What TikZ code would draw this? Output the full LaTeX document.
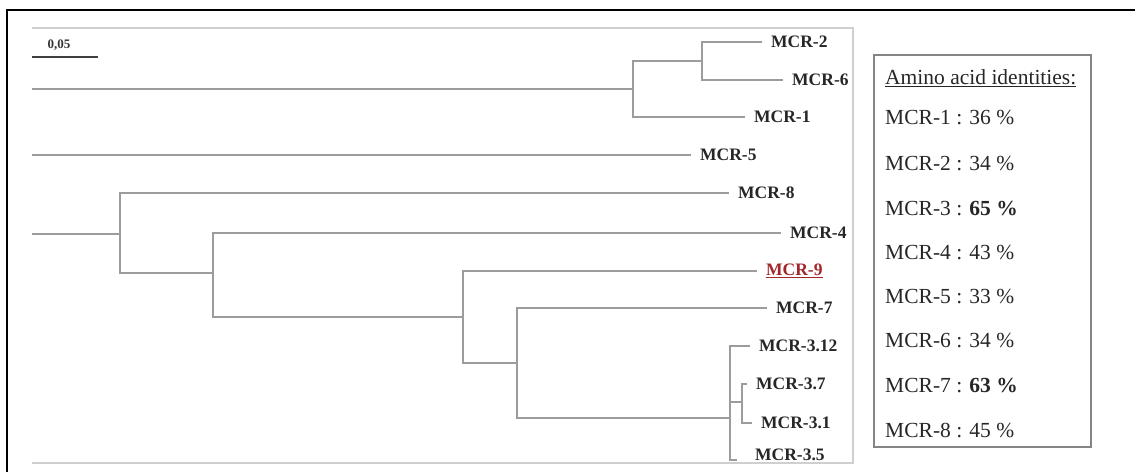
\documentclass[tikz,border=0pt]{standalone}
\usepackage{fontspec}
\setmainfont{Liberation Serif}
\usepackage{tikz}
\usetikzlibrary{positioning,calc}
\definecolor{Branch}{HTML}{9C9C9C}
\definecolor{FrameGray}{HTML}{CFCFCF}
\definecolor{BoxGray}{HTML}{858585}
\definecolor{Query}{HTML}{A3252B}

\begin{document}
\begin{tikzpicture}[
  x=1pt,y=-1pt,
  every node/.style={font=\fontsize{17.5}{19}\selectfont\bfseries},
  branch/.style={draw=Branch,line width=1.8pt},
  leaf/.style={anchor=west,inner xsep=9pt,inner ysep=0pt,text=black!85},
  ident/.style={anchor=west,inner sep=0pt,font=\fontsize{21.5}{23}\selectfont,text=black!85}
]
\useasboundingbox (0,0) rectangle (1135,472);
% frames
\draw[black,line width=1.4pt] (7,472) -- (7,10) -- (1135,10);
\draw[FrameGray,line width=2pt] (32,28) -- (853,28) -- (853,463) -- (32,463);
% scale bar
\node[font=\fontsize{13}{14}\selectfont\bfseries,inner sep=0pt,text=black!80] (scale) at (59,45) {0,05};
\coordinate (sbl) at (32,57);
\coordinate (sbr) at (98,57);
\draw[black!75,line width=1.5pt] (sbl) -- (sbr);
% leaves
\node[leaf] (l2) at (762,42) {MCR-2};
\node[leaf] (l6) at (783,80) {MCR-6};
\node[leaf] (l1) at (745,117) {MCR-1};
\node[leaf] (l5) at (691,155) {MCR-5};
\node[leaf] (l8) at (729,193) {MCR-8};
\node[leaf] (l4) at (781,233) {MCR-4};
\node[leaf,text=Query] (l9) at (757,271) {\underline{MCR-9}};
\node[leaf] (l7) at (767,308) {MCR-7};
\node[leaf] (l312) at (750,346) {MCR-3.12};
\node[leaf] (l37) at (747,384) {MCR-3.7};
\node[leaf] (l31) at (752,423) {MCR-3.1};
\node[leaf] (l35) at (746,455) {MCR-3.5};
% inner nodes
\coordinate (r1) at (32,89);
\coordinate (r2) at (32,155);
\coordinate (r3) at (32,234);
\coordinate (a) at (633,89);
\coordinate (b) at (702,61);
\coordinate (c) at (120,234);
\coordinate (d) at (213,273);
\coordinate (e) at (463,317);
\coordinate (f) at (517,363);
\coordinate (g) at (730,418);
\coordinate (h) at (742,402);
% branches
\draw[branch] (r1) -- (a);
\draw[branch] (r2) -- (l5.west);
\draw[branch] (r3) -- (c);
\draw[branch] (a) |- (b);
\draw[branch] (a) |- (l1.west);
\draw[branch] (b) |- (l2.west);
\draw[branch] (b) |- (l6.west);
\draw[branch] (c) |- (l8.west);
\draw[branch] (c) |- (d);
\draw[branch] (d) |- (l4.west);
\draw[branch] (d) |- (e);
\draw[branch] (e) |- (l9.west);
\draw[branch] (e) |- (f);
\draw[branch] (f) |- (l7.west);
\draw[branch] (f) |- (g);
\draw[branch] (g) |- (l312.west);
\draw[branch,shorten >=9pt] (g) |- ($(l35.west)+(0,5)$);
\draw[branch] (g) |- (h);
\draw[branch] (h) |- (l37.west);
\draw[branch] (h) |- (l31.west);
% identities
\draw[BoxGray,line width=2pt] (874,55) rectangle (1091,447);
\node[ident] (title) at (885,78) {\underline{Amino acid identities:}};
\node[ident] (i1) at (885,117) {MCR-1 : 36 \%};
\node[ident] (i2) at (885,163) {MCR-2 : 34 \%};
\node[ident] (i3) at (885,208) {MCR-3 : \textbf{65 \%}};
\node[ident] (i4) at (885,252) {MCR-4 : 43 \%};
\node[ident] (i5) at (885,296) {MCR-5 : 33 \%};
\node[ident] (i6) at (885,340) {MCR-6 : 34 \%};
\node[ident] (i7) at (885,385) {MCR-7 : \textbf{63 \%}};
\node[ident] (i8) at (885,430) {MCR-8 : 45 \%};
\end{tikzpicture}
\end{document}
